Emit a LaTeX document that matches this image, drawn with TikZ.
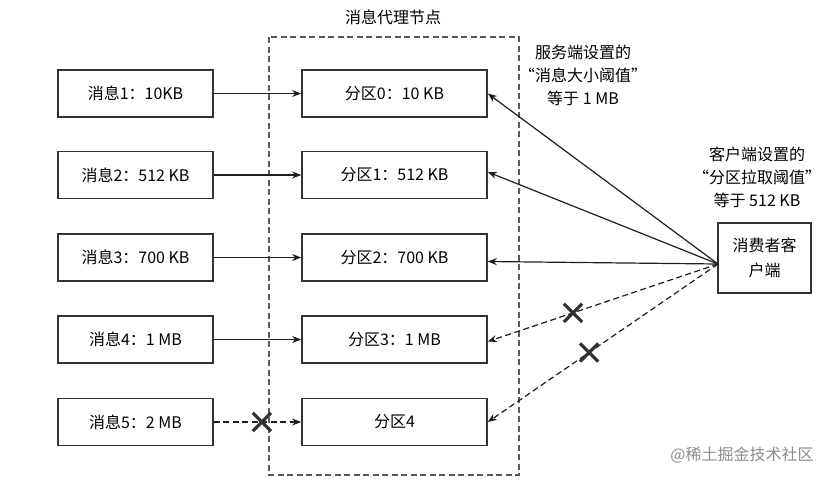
\documentclass[tikz,border=0pt]{standalone}
\usepackage{fontspec}
\setmainfont{Noto Sans CJK SC}
\usepackage{tikz}
\usetikzlibrary{shapes.misc,arrows.meta,positioning}
\definecolor{boxline}{RGB}{50, 50, 50}
\definecolor{linkcol}{RGB}{30, 30, 30}
\definecolor{brokerline}{RGB}{90, 90, 90}
\definecolor{marktext}{RGB}{140, 140, 140}

\begin{document}
\begin{tikzpicture}[x=1pt, y=-1pt,
    msgbox/.style={draw=boxline, line width=1.6pt, fill=white, minimum width=155pt, minimum height=47pt, font=\fontsize{16}{18}\selectfont},
    link/.style={linkcol, line width=1.2pt, -{Stealth[length=9pt, width=7pt]}},
    nolink/.style={link, dash pattern=on 6pt off 3.5pt},
    cross/.style={cross out, solid, draw=boxline, line width=3.2pt, minimum size=15pt, inner sep=0pt},
    note/.style={align=center, font=\fontsize{16}{23}\selectfont}]
    \useasboundingbox (0,0) rectangle (836,480);
    % broker
    \draw[brokerline, line width=1.1pt, dash pattern=on 6pt off 3.5pt] (269,37) rectangle (519,475);
    \node[font=\fontsize{16}{18}\selectfont] (broker) at (393,17) {消息代理节点};
    % messages
    \node[msgbox] (m1) at (135.5,93.5) {消息1：10KB};
    \node[msgbox] (m2) at (135.5,175) {消息2：512 KB};
    \node[msgbox] (m3) at (135.5,257.5) {消息3：700 KB};
    \node[msgbox] (m4) at (135.5,339.5) {消息4：1 MB};
    \node[msgbox] (m5) at (135.5,422) {消息5：2 MB};
    % partitions
    \node[msgbox, minimum width=185pt] (p0) at (394.5,93.5) {分区0：10 KB};
    \node[msgbox, minimum width=185pt] (p1) at (394.5,175) {分区1：512 KB};
    \node[msgbox, minimum width=185pt] (p2) at (394.5,257.5) {分区2：700 KB};
    \node[msgbox, minimum width=185pt] (p3) at (394.5,339.5) {分区3：1 MB};
    \node[msgbox, minimum width=185pt] (p4) at (394.5,422) {分区4};
    % consumer
    \node[msgbox, minimum width=93pt, minimum height=70pt, align=center, font=\fontsize{16}{25}\selectfont] (cons) at (764.5,258) {消费者客\\户端};
    \coordinate (pull) at (718,264);
    % thresholds
    \node[note] (srvnote) at (583,75) {服务端设置的\\“消息大小阈值”\\等于 1 MB};
    \node[note] (clinote) at (757,177) {客户端设置的\\“分区拉取阈值”\\等于 512 KB};
    % produce
    \draw[link] (m1) -- (p0);
    \draw[link] (m2) -- (p1);
    \draw[link] (m3) -- (p2);
    \draw[link] (m4) -- (p3);
    \draw[nolink] (m5) -- node[cross, pos=0.55] (x5) {} (p4);
    % fetch
    \draw[link] (pull) -- (p0.east);
    \draw[link] (pull) -- ([yshift=3pt]p1.east);
    \draw[link] (pull) -- ([yshift=-4pt]p2.east);
    \draw[nolink] (pull) -- node[cross, pos=0.63] (x3) {} ([yshift=-2pt]p3.east);
    \draw[nolink] (pull) -- node[cross, pos=0.56] (x4) {} (p4.east);
    \node[text=marktext, font=\fontsize{16}{18}\selectfont] (mark) at (742,455) {@稀土掘金技术社区};
\end{tikzpicture}
\end{document}
